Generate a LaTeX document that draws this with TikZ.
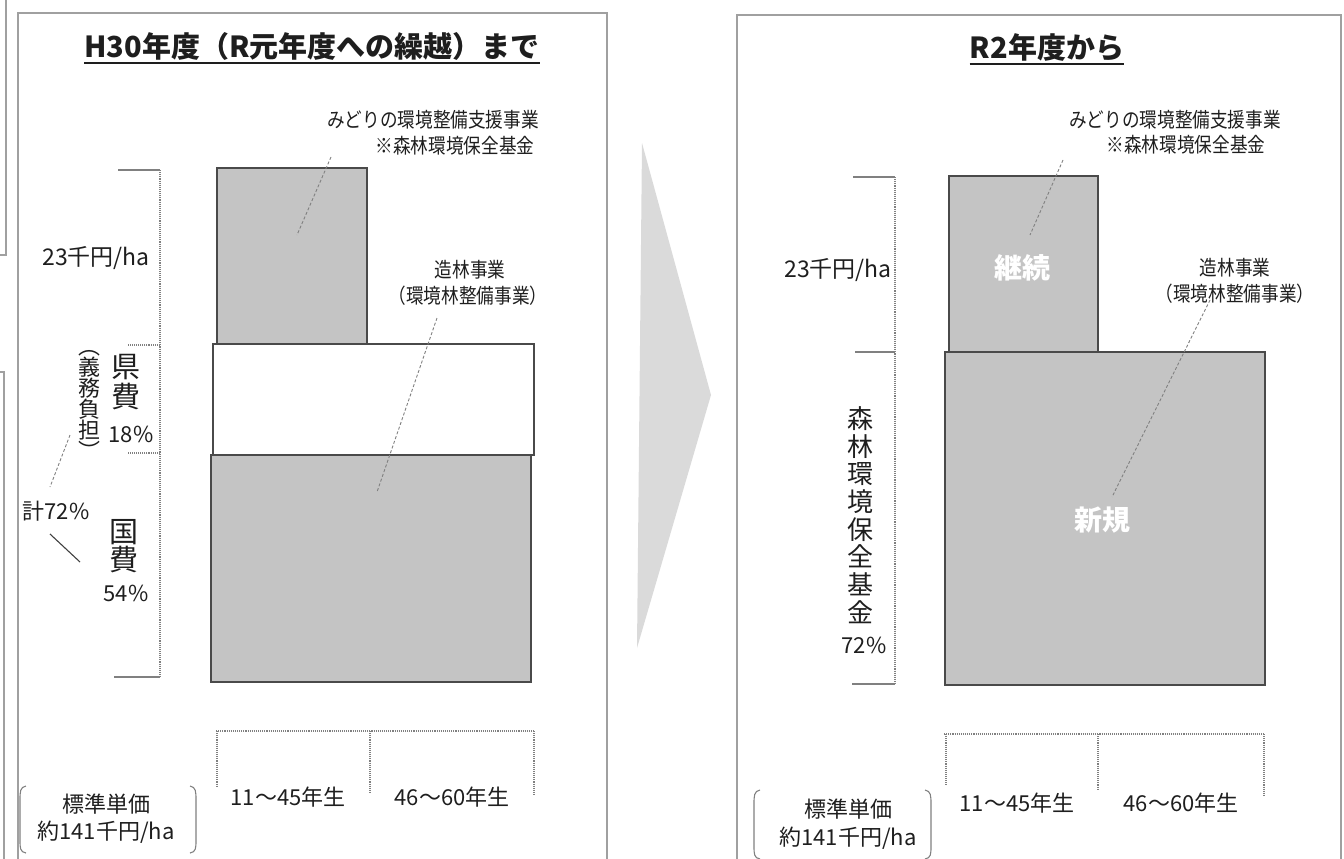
\documentclass[tikz,border=0pt]{standalone}
\usepackage{fontspec}
\setmainfont{Noto Sans CJK JP}
\newfontfamily\narrowjp[FakeStretch=0.86]{Noto Sans CJK JP}
\usetikzlibrary{calc}

\definecolor{boxgray}{HTML}{C4C4C4}
\definecolor{edgegray}{HTML}{4A4A4A}
\definecolor{framegray}{HTML}{A0A0A0}
\definecolor{arrowgray}{HTML}{DADADA}
\definecolor{inkgray}{HTML}{1E1E1E}

\tikzset{
    panelframe/.style={draw=framegray, line width=1.6pt},
    blockbox/.style={draw=edgegray, line width=2.4pt, fill=boxgray},
    leader/.style={draw=gray, line width=0.9pt, densely dashed},
    tickline/.style={draw=gray, line width=1.1pt},
    dotline/.style={draw=gray, line width=1.1pt, densely dotted},
    txt/.style={text=inkgray, inner sep=0pt, font=\fontsize{22}{24}\selectfont},
    smalltxt/.style={text=inkgray, inner sep=0pt, font=\narrowjp\fontsize{20.5}{22}\selectfont},
    titletxt/.style={text=inkgray, inner sep=0pt, font=\fontsize{29}{32}\selectfont\bfseries},
    whitetxt/.style={text=white, inner sep=0pt, font=\fontsize{28}{30}\selectfont\bfseries}
}

\begin{document}
\begin{tikzpicture}[x=1pt,y=-1pt]
        \useasboundingbox (0,0) rectangle (1344,859);
        \clip (0,0) rectangle (1344,859);

        \draw[panelframe] (6,0) -- (6,255) -- (0,255);
        \draw[panelframe] (0,372) -- (4,372) -- (4,870);
        \draw[panelframe] (18,13) rectangle (607,880);
        \draw[panelframe] (737,15) rectangle (1341,880);

        \fill[arrowgray] (642,143) -- (711,395) -- (637,648) -- cycle;

        % H30
        \node[titletxt] (ttlL) at (312,46) {H30年度（R元年度への繰越）まで};
        \draw[line width=2pt, inkgray] ([yshift=-6pt]ttlL.base west) -- ([yshift=-6pt]ttlL.base east);

        \filldraw[blockbox] (217,168) rectangle (367,344);
        \filldraw[blockbox, fill=white] (213,344) rectangle (534,455);
        \filldraw[blockbox] (211,455) rectangle (531,682);

        \node[smalltxt] (aidL1) at (433,120) {みどりの環境整備支援事業};
        \node[smalltxt] (aidL2) at (455,146) {※森林環境保全基金};
        \coordinate (aidLa) at (331,157);
        \coordinate (aidLb) at (297,235);
        \draw[leader] (aidLa) -- (aidLb);

        \node[smalltxt] (zorL1) at (470,270) {造林事業};
        \node[smalltxt] (zorL2) at (468,296) {（環境林整備事業）};
        \coordinate (zorLa) at (437,318);
        \coordinate (zorLb) at (377,492);
        \draw[leader] (zorLa) -- (zorLb);

        \coordinate (brLt) at (160,170);
        \coordinate (brLm1) at (160,345);
        \coordinate (brLm2) at (160,453);
        \coordinate (brLb) at (160,677);
        \draw[dotline] (brLt) -- (brLb);
        \draw[tickline] (brLt) -- ++(-42,0);
        \draw[dotline] (brLm1) -- ++(-32,0);
        \draw[dotline] (brLm2) -- ++(-32,0);
        \draw[tickline] (brLb) -- ++(-46,0);

        \node[txt, font=\fontsize{23}{25}\selectfont] (unitL) at (96,258) {23千円/ha};
        \node[txt, font=\fontsize{29}{30}\selectfont, align=center] (kenhi) at (126,382) {県\\費};
        \node[txt] (pct18) at (131,434) {18\%};
        \node[txt, font=\fontsize{22}{21}\selectfont, align=center] (gimu) at (89,405) {︵\\義\\務\\負\\担\\︶};
        \node[txt] (kei) at (56,511) {計72\%};
        \coordinate (keiA) at (70,435);
        \coordinate (keiB) at (50,487);
        \coordinate (keiC) at (50,534);
        \coordinate (keiD) at (80,562);
        \draw[leader] (keiA) -- (keiB);
        \draw[tickline, draw=darkgray] (keiC) -- (keiD);
        \node[txt, font=\fontsize{29}{28}\selectfont, align=center] (kokuhi) at (124,546) {国\\費};
        \node[txt] (pct54) at (126,593) {54\%};

        \draw[dotline] (216,731) -- (535,731);
        \draw[dotline] (217,731) -- (217,787);
        \draw[dotline] (370,731) -- (370,792);
        \draw[dotline] (534,731) -- (534,795);
        \node[txt] (ageL1) at (288,797) {11〜45年生};
        \node[txt] (ageL2) at (452,797) {46〜60年生};
        \node[txt] (stdL1) at (106,804) {標準単価};
        \node[txt] (stdL2) at (106,832) {約141千円/ha};
        \draw[tickline] (26,786) .. controls (20,787) and (20,792) .. (20,800) -- (20,840) .. controls (20,848) and (20,852) .. (26,853);
        \draw[tickline] (190,786) .. controls (196,787) and (196,792) .. (196,800) -- (196,840) .. controls (196,848) and (196,852) .. (190,853);

        % R2
        \node[titletxt] (ttlR) at (1047,47) {R2年度から};
        \draw[line width=2pt, inkgray] ([yshift=-6pt]ttlR.base west) -- ([yshift=-6pt]ttlR.base east);

        \filldraw[blockbox] (949,176) rectangle (1098,352);
        \filldraw[blockbox] (945,352) rectangle (1265,685);
        \node[whitetxt] (keizoku) at (1022,268) {継続};
        \node[whitetxt] (shinki) at (1102,520) {新規};

        \node[smalltxt] (aidR1) at (1175,120) {みどりの環境整備支援事業};
        \node[smalltxt] (aidR2) at (1186,145) {※森林環境保全基金};
        \coordinate (aidRa) at (1063,160);
        \coordinate (aidRb) at (1030,235);
        \draw[leader] (aidRa) -- (aidRb);

        \node[smalltxt] (zorR1) at (1235,268) {造林事業};
        \node[smalltxt] (zorR2) at (1235,294) {（環境林整備事業）};
        \coordinate (zorRa) at (1210,300);
        \coordinate (zorRb) at (1112,497);
        \draw[leader] (zorRa) -- (zorRb);

        \coordinate (brRt) at (895,177);
        \coordinate (brRm) at (895,352);
        \coordinate (brRb) at (895,684);
        \draw[dotline] (brRt) -- (brRb);
        \draw[tickline] (brRt) -- ++(-42,0);
        \draw[tickline] (brRm) -- ++(-40,0);
        \draw[tickline] (brRb) -- ++(-43,0);

        \node[txt, font=\fontsize{23}{25}\selectfont] (unitR) at (838,270) {23千円/ha};
        \node[txt, font=\fontsize{26}{27.7}\selectfont, align=center] (kikin) at (860,515) {森\\林\\環\\境\\保\\全\\基\\金};
        \node[txt] (pct72) at (864,645) {72\%};

        \draw[dotline] (944,734) -- (1264,734);
        \draw[dotline] (946,734) -- (946,785);
        \draw[dotline] (1098,734) -- (1098,790);
        \draw[dotline] (1264,734) -- (1264,795);
        \node[txt] (ageR1) at (1017,803) {11〜45年生};
        \node[txt] (ageR2) at (1181,803) {46〜60年生};
        \node[txt] (stdR1) at (848,809) {標準単価};
        \node[txt] (stdR2) at (848,838) {約141千円/ha};
        \draw[tickline] (760,790) .. controls (754,791) and (754,796) .. (754,804) -- (754,846) .. controls (754,854) and (754,858) .. (760,859);
        \draw[tickline] (925,790) .. controls (931,791) and (931,796) .. (931,804) -- (931,846) .. controls (931,854) and (931,858) .. (925,859);
\end{tikzpicture}
\end{document}
